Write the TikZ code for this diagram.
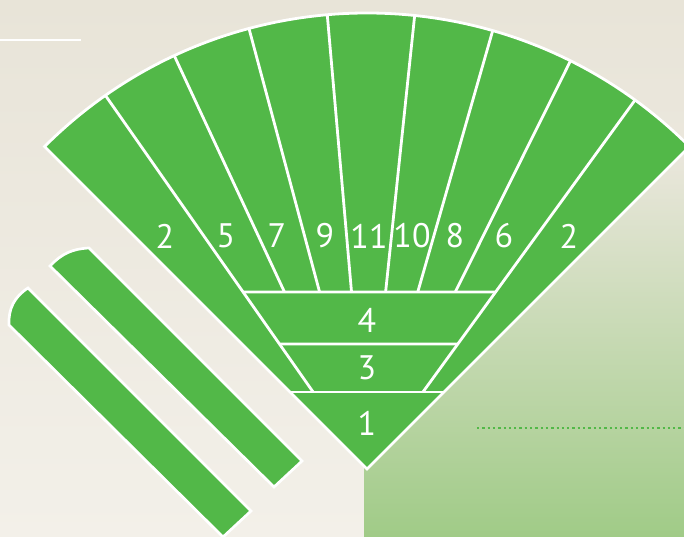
\documentclass[tikz,border=0pt]{standalone}
\usepackage{fontspec}
\setmainfont{PT Sans}

\definecolor{bgtop}{RGB}{232,228,216}
\definecolor{bgbottom}{RGB}{243,240,233}
\definecolor{fangreen}{RGB}{82,184,72}
\definecolor{panelgreen}{RGB}{160,203,135}
\definecolor{panelfade}{RGB}{235,231,221}

\newcommand*{\fanr}{456}
\newcommand*{\hfour}{177}
\newcommand*{\hthree}{125}
\newcommand*{\hone}{77}

\begin{document}
\begin{tikzpicture}
[
	x=1pt, y=1pt,
	fanline/.style={draw=white,line width=2.8pt,line join=miter},
	fanlabel/.style={text=white,inner sep=0pt,font=\fontsize{34}{34}\selectfont},
	barshape/.style={fill=fangreen,draw=white,line width=2.7pt}
]
	\useasboundingbox (0,0) rectangle (684,537);

	% background
	\shade[top color=bgtop,bottom color=bgbottom] (0,0) rectangle (684,537);
	\shade[top color=panelfade,bottom color=panelgreen] (364,0) rectangle (684,387);
	\draw[white,line width=2.5pt] (0,497) -- (81,497);
	\draw[fangreen,line width=2.5pt,dash pattern=on 2.3pt off 3pt] (477,109) -- (684,109);

	% bars
	\draw[barshape] (50,271) to[bend left=22] (89,289) -- (302,76) -- (274,50) -- cycle;
	\draw[barshape] (9,212) to[bend left=30] (28,249) -- (251,26) -- (223,0) -- cycle;

	% fan
	\coordinate (apex) at (367,68);
	\draw[fanline,fill=fangreen] (apex) -- +(135:\fanr) arc[start angle=135,end angle=45,radius=\fanr] -- cycle;

	\foreach \a in {115,105,95,84,74,63.5}
		\draw[fanline] (apex) +(\a:{\hfour/sin(\a)}) -- +(\a:\fanr);
	\foreach \a in {125,54}
		\draw[fanline] (apex) +(\a:{\hone/sin(\a)}) -- +(\a:\fanr);

	\draw[fanline] (apex) +(125:{\hfour/sin(125)}) -- +(54:{\hfour/sin(54)});
	\draw[fanline] (apex) +(125:{\hthree/sin(125)}) -- +(54:{\hthree/sin(54)});
	\draw[fanline] (apex) +(135:{\hone/sin(135)}) -- +(45:{\hone/sin(45)});

	% labels
	\foreach \x/\t [count=\i] in {165/2,226/5,277/7,325/9,369/11,412/10,455/8,504/6,569/2}
		\node[fanlabel] (wedge\i) at (\x,301) {\t};
	\node[fanlabel] (band4) at (367,217) {4};
	\node[fanlabel] (band3) at (367,169) {3};
	\node[fanlabel] (band1) at (367,114) {1};

\end{tikzpicture}
\end{document}
